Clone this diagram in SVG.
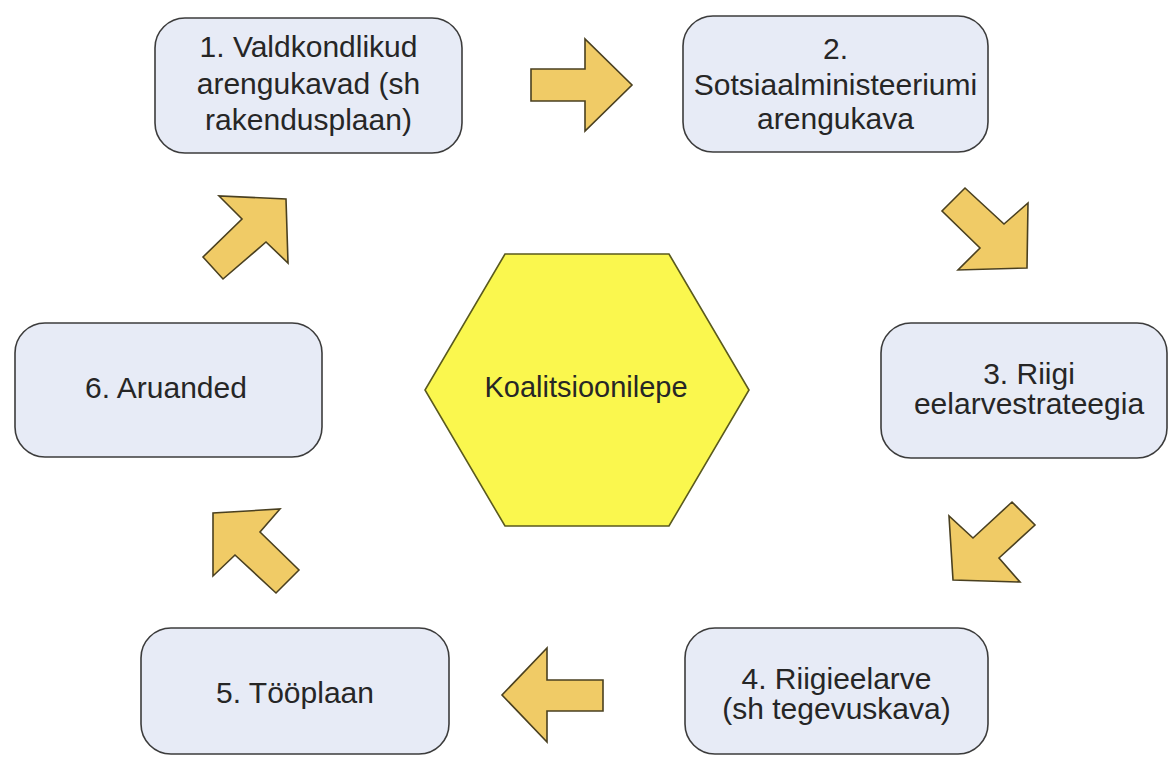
<svg xmlns="http://www.w3.org/2000/svg" width="1173" height="758" viewBox="0 0 1173 758">
<style>
.box{fill:#E7EBF6;stroke:#3C3C3C;stroke-width:1.6}
.arr{fill:#F0CB66;stroke:#4A4020;stroke-width:1.6;stroke-linejoin:miter}
.hex{fill:#FAF74E;stroke:#5A5A1E;stroke-width:1.6}
text{font-family:"Liberation Sans",Arial,sans-serif;font-size:30px;fill:#262626;text-anchor:middle}
</style>
<rect width="1173" height="758" fill="#FFFFFF"/>
<g id="connectors">
<polygon class="arr" points="531,69 585,69 585,39 632,85 585,131 585,101 531,101"/>
<polygon class="arr" points="965,188 1004,224 1028,203 1027,268 958,270 980,248 942,211"/>
<polygon class="arr" points="1012,502 1035,525 999,558 1020,582 953,580 949,516 973,538"/>
<polygon class="arr" points="603,680 603,711 547,711 547,742 502,695 547,648 547,680"/>
<polygon class="arr" points="299,570 276,593 235,555 213,576 213,513 280,509 260,532"/>
<polygon class="arr" points="203,257 223,279 266,242 288,263 286,199 219,196 242,219"/>
</g>
<g id="node1">
<rect class="box" x="155" y="18" width="307" height="135" rx="30"/>
<text x="308.5" y="57">1. Valdkondlikud</text>
<text x="308.5" y="94">arengukavad (sh</text>
<text x="308.5" y="130">rakendusplaan)</text>
</g>
<g id="node2">
<rect class="box" x="683" y="16" width="305" height="136" rx="30"/>
<text x="835.5" y="59">2.</text>
<text x="835.5" y="95">Sotsiaalministeeriumi</text>
<text x="835.5" y="129">arengukava</text>
</g>
<g id="node3">
<rect class="box" x="881" y="323" width="286" height="135" rx="30"/>
<text x="1029" y="384">3. Riigi</text>
<text x="1029" y="414">eelarvestrateegia</text>
</g>
<g id="node4">
<rect class="box" x="685" y="628" width="303" height="126" rx="30"/>
<text x="836.5" y="689">4. Riigieelarve</text>
<text x="836.5" y="719">(sh tegevuskava)</text>
</g>
<g id="node5">
<rect class="box" x="141" y="628" width="308" height="126" rx="30"/>
<text x="295" y="703">5. Tööplaan</text>
</g>
<g id="node6">
<rect class="box" x="15" y="323" width="307" height="134" rx="30"/>
<text x="166" y="398">6. Aruanded</text>
</g>
<g id="hexagon">
<polygon class="hex" points="505,254 669,254 749,390 669,526 505,526 425,390"/>
<text x="586" y="397" style="font-size:29px">Koalitsioonilepe</text>
</g>
</svg>
